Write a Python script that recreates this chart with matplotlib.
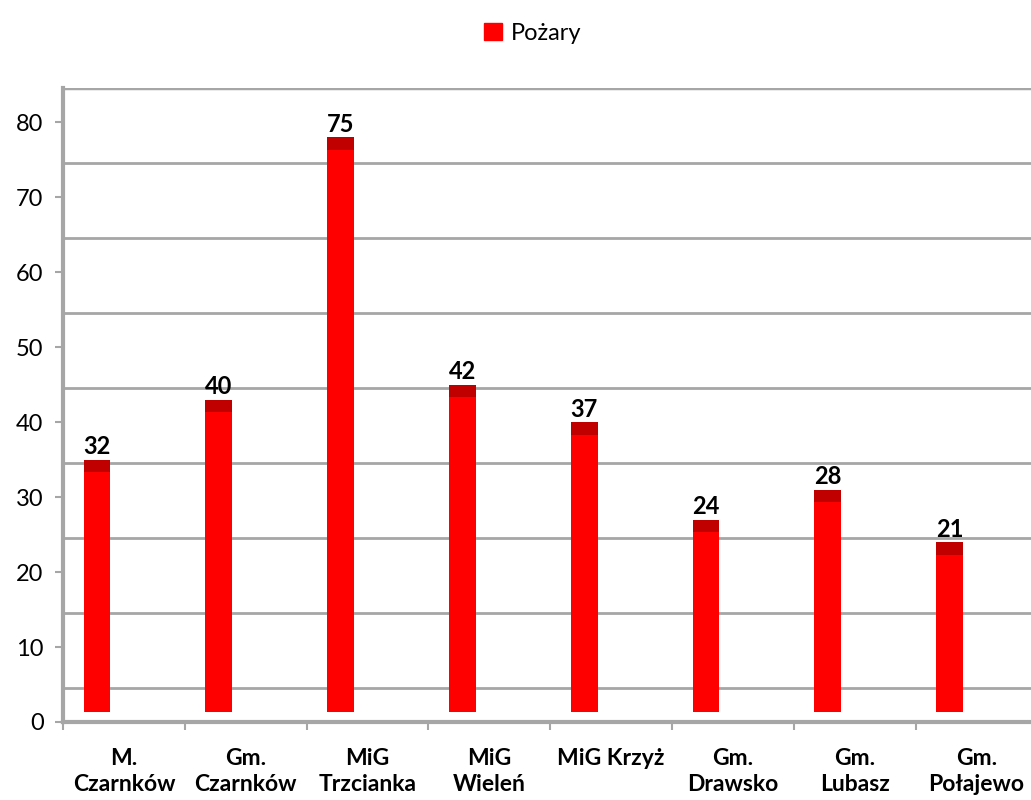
import numpy as np
import matplotlib
matplotlib.use('Agg')
import matplotlib.pyplot as plt
from matplotlib.patches import Patch

plt.rcParams['font.family'] = ['Lato', 'DejaVu Sans']

# data
gminy = ['M.\nCzarnków', 'Gm.\nCzarnków', 'MiG\nTrzcianka', 'MiG\nWieleń',
         'MiG Krzyż', 'Gm.\nDrawsko', 'Gm.\nLubasz', 'Gm.\nPołajewo']
pozary = [32, 40, 75, 42, 37, 24, 28, 21]

red = '#FF0000'
dark_red = '#C00000'
grey = '#A6A6A6'

depth = 1.3      # 3d lift of the front face
cap = 1.7        # height of the top face
shift = 0.22     # bars pushed towards the front-left

fig = plt.figure(figsize=(10.31, 8), dpi=100)
ax = fig.add_axes([0.0611, 0.0975, 0.945, 0.792])

n = len(pozary)
xc = np.arange(n) + 0.5
xb = xc - shift
vals = np.array(pozary)

# back wall gridlines (shifted up by perspective)
for g in np.arange(4.5, 80, 10):
    ax.axhline(g, color=grey, lw=2, zorder=1)
ax.axhline(84.5, color=grey, lw=2.5, zorder=1)

ax.bar(xb, vals, width=0.22, bottom=depth, color=red, zorder=3)
ax.bar(xb, cap, width=0.22, bottom=vals + depth, color=dark_red, zorder=3)

for xi, v in zip(xb, vals):
    ax.text(xi, v + depth + cap + 0.2, str(v), ha='center', va='bottom',
            fontsize=17, fontweight='bold', zorder=4)

ax.set_xlim(0, n)
ax.set_ylim(0, 84.5)

ax.set_yticks(np.arange(0, 81, 10))
ax.tick_params(axis='y', labelsize=17, length=6, width=1.5, color=grey, pad=8)

ax.set_xticks(np.arange(0, n + 1))
ax.set_xticklabels([])
ax.set_xticks(xc, minor=True)
ax.set_xticklabels(gminy, minor=True, fontsize=16.5, fontweight='bold', linespacing=1.3)
ax.tick_params(axis='x', which='major', length=6, width=1.5, color=grey)
ax.tick_params(axis='x', which='minor', length=0, pad=19)

for s in ['top', 'right']:
    ax.spines[s].set_visible(False)
ax.spines['left'].set_color(grey)
ax.spines['left'].set_linewidth(3)
ax.spines['bottom'].set_color(grey)
ax.spines['bottom'].set_linewidth(3)

fig.legend(handles=[Patch(color=red, label='Pożary')], loc='upper center',
           bbox_to_anchor=(0.517, 0.998), frameon=False, fontsize=17,
           handlelength=0.75, handleheight=0.75, handletextpad=0.4)

plt.savefig('out.png', dpi=100)
